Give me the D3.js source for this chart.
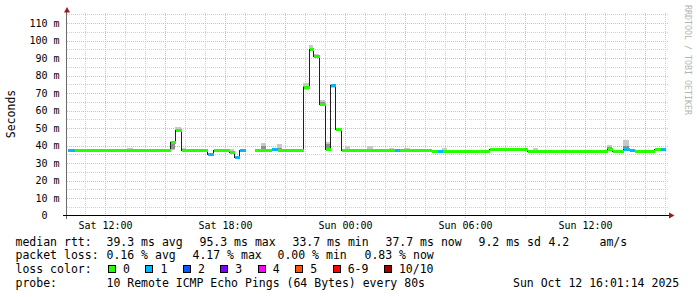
<!DOCTYPE html>
<html>
<head>
<meta charset="utf-8">
<script src="https://cdn.jsdelivr.net/npm/d3@7"></script>
<style>
  body { margin: 0; background: #fff; }
  svg { display: block; font-family: "DejaVu Sans Mono", monospace; }
</style>
</head>
<body>
<svg id="chart" width="697" height="297"></svg>
<script>
// one entry per consolidated step: start time, median rtt (ms), lost pings of 10,
// smoke range (light) and dense smoke range (dark), in ms. null = no data / no smoke
const stepStart = [
  "2025-10-11 10:06", "2025-10-11 10:27", "2025-10-11 13:06", "2025-10-11 13:24",
  "2025-10-11 15:15", "2025-10-11 15:30", "2025-10-11 15:48", "2025-10-11 16:03",
  "2025-10-11 17:05", "2025-10-11 17:23", "2025-10-11 18:12", "2025-10-11 18:27",
  "2025-10-11 18:42", "2025-10-11 19:00", "2025-10-11 19:27", "2025-10-11 19:48",
  "2025-10-11 20:03", "2025-10-11 20:18", "2025-10-11 20:36", "2025-10-11 20:51",
  "2025-10-11 21:54", "2025-10-11 22:12", "2025-10-11 22:24", "2025-10-11 22:42",
  "2025-10-11 23:00", "2025-10-11 23:15", "2025-10-11 23:30", "2025-10-11 23:48",
  "2025-10-12 00:00", "2025-10-12 00:15", "2025-10-12 01:06", "2025-10-12 01:24",
  "2025-10-12 02:12", "2025-10-12 02:27", "2025-10-12 02:42", "2025-10-12 02:57",
  "2025-10-12 03:15", "2025-10-12 04:18", "2025-10-12 04:36", "2025-10-12 04:51",
  "2025-10-12 05:06", "2025-10-12 07:12", "2025-10-12 09:06", "2025-10-12 09:24",
  "2025-10-12 09:39", "2025-10-12 13:06", "2025-10-12 13:21", "2025-10-12 13:54",
  "2025-10-12 14:12", "2025-10-12 14:27", "2025-10-12 15:27", "2025-10-12 15:45",
  "2025-10-12 16:00"
]
const medianMs = [
  37.3, 37.3, 37.3, 37.3,
  42.0, 49.0, 37.3, 37.3,
  34.9, 37.3, 36.3, 33.7,
  37.3, null, 37.3, 37.3,
  37.3, 38.2, 37.3, 37.3,
  73.3, 95.2, 91.0, 63.5,
  38.0, 74.9, 49.2, 37.3,
  37.3, 37.3, 37.3, 37.3,
  37.3, 37.3, 37.3, 37.3,
  37.3, 37.0, 37.0, 37.0,
  37.0, 38.3, 37.1, 37.1,
  37.1, 38.2, 37.1, 37.8,
  37.3, 37.1, 38.2, 38.2,
  null
]
const lossPings = [
  1, 0, 0, 0,
  0, 0, 0, 0,
  1, 0, 0, 1,
  1, 0, 0, 0,
  0, 1, 0, 0,
  0, 0, 0, 0,
  0, 1, 0, 0,
  0, 0, 0, 0,
  0, 1, 0, 0,
  0, 0, 1, 0,
  0, 0, 0, 0,
  0, 0, 0, 1,
  1, 0, 0, 1,
  0
]
const smokeLoMs = [
  null, null, 37.3, null,
  37.6, 48.6, 37.3, null,
  null, null, 36.3, null,
  null, null, null, 37.3,
  null, null, 37.3, null,
  71.5, 95.0, 90.5, 63.2,
  37.6, 73.0, null, null,
  37.3, null, 37.3, null,
  37.3, null, null, 37.3,
  null, null, null, 37.0,
  null, null, null, 37.1,
  null, 38.0, null, 37.3,
  null, null, null, null,
  null
]
const smokeHiMs = [
  null, null, 38.6, null,
  42.6, 50.6, 38.6, null,
  null, null, 37.8, null,
  null, null, null, 41.6,
  null, null, 40.8, null,
  75.5, 97.5, 92.5, 66.0,
  42.2, 75.3, null, null,
  39.7, null, 39.7, null,
  38.6, null, null, 38.6,
  null, null, null, 38.6,
  null, null, null, 38.6,
  null, 40.5, null, 43.2,
  null, null, null, null,
  null
]
const denseLoMs = [
  null, null, null, null,
  37.9, null, null, null,
  null, null, null, null,
  null, null, null, 37.3,
  null, null, 37.3, null,
  72.5, null, null, 63.5,
  38.0, null, null, null,
  null, null, null, null,
  null, null, null, null,
  null, null, null, null,
  null, null, null, null,
  null, 38.0, null, 37.5,
  null, null, null, null,
  null
]
const denseHiMs = [
  null, null, null, null,
  42.0, null, null, null,
  null, null, null, null,
  null, null, null, 39.6,
  null, null, 38.6, null,
  74.2, null, null, 64.8,
  40.8, null, null, null,
  null, null, null, null,
  null, null, null, null,
  null, null, null, null,
  null, null, null, null,
  null, 39.0, null, 40.0,
  null, null, null, null,
  null
]

const yTicks = [0, 10, 20, 30, 40, 50, 60, 70, 80, 90, 100, 110]
const lossLabels = ["0", "1", "2", "3", "4", "5", "6-9", "10/10"]
const lossColors = ["#26ff00", "#00b8ff", "#0059ff", "#7e00ff", "#ff00ff", "#ff5500", "#ff0000", "#a10000"]

const legendRtt = [
  ["39.3 ms avg", 107], ["95.3 ms max", 200], ["33.7 ms min", 293],
  ["37.7 ms now", 386], ["9.2 ms sd", 479], ["4.2", 549], ["am/s", 600]
]
const legendLoss = [
  ["0.16 % avg", 107], ["4.17 % max", 193], ["0.00 % min", 278], ["0.83 % now", 365]
]
const probeText = "10 Remote ICMP Echo Pings (64 Bytes) every 80s"
const stampText = "Sun Oct 12 16:01:14 2025"

const viewStart = "2025-10-11 10:06"
const viewEnd = "2025-10-12 16:06"

const parseTime = d3.timeParse("%Y-%m-%d %H:%M")

// loss pings -> legend colour bucket
const lossIndex = n => n <= 5 ? n : (n < 10 ? 6 : 7)

const svg = d3.select("#chart")

const x = d3.scaleTime()
  .domain([parseTime(viewStart), parseTime(viewEnd)])
  .range([67, 667])

const y = d3.scaleLinear()
  .domain([0, 115.5])
  .range([215.5, 13.5])

const X = t => Math.round(x(t))

const steps = stepStart.slice(0, -1).map((s, i) => ({
  t0: parseTime(s),
  t1: parseTime(stepStart[i + 1]),
  median: medianMs[i],
  loss: lossPings[i],
  lo: smokeLoMs[i],
  hi: smokeHiMs[i],
  dlo: denseLoMs[i],
  dhi: denseHiMs[i]
}))

// grid
const grid = svg.append("g").attr("shape-rendering", "crispEdges")
const hours = d3.timeHour.range(x.domain()[0], x.domain()[1])
grid.selectAll("line.vminor")
  .data(hours.filter(h => h.getHours() % 3 !== 0))
  .join("line")
    .attr("x1", d => X(d) + 0.5).attr("x2", d => X(d) + 0.5)
    .attr("y1", 13).attr("y2", 217)
    .attr("stroke", "#cfcfcf")
    .attr("stroke-dasharray", "1,1")
grid.selectAll("line.hminor")
  .data(d3.range(5, 116, 10))
  .join("line")
    .attr("x1", 67).attr("x2", 668)
    .attr("y1", d => Math.round(y(d)) + 0.5).attr("y2", d => Math.round(y(d)) + 0.5)
    .attr("stroke", "#cfcfcf")
    .attr("stroke-dasharray", "1,1")
grid.selectAll("line.vmajor")
  .data(hours.filter(h => h.getHours() % 3 === 0))
  .join("line")
    .attr("x1", d => X(d) + 0.5).attr("x2", d => X(d) + 0.5)
    .attr("y1", 13).attr("y2", 218)
    .attr("stroke", "#e8b4b4")
    .attr("stroke-dasharray", "1,1")
grid.selectAll("line.hmajor")
  .data(yTicks.slice(1))
  .join("line")
    .attr("x1", 67).attr("x2", 668)
    .attr("y1", d => Math.round(y(d)) + 0.5).attr("y2", d => Math.round(y(d)) + 0.5)
    .attr("stroke", "#e8b4b4")
    .attr("stroke-dasharray", "1,1")

// smoke
const smoke = svg.append("g").attr("shape-rendering", "crispEdges")
smoke.selectAll("rect.light")
  .data(steps.filter(d => d.lo != null))
  .join("rect")
    .attr("x", d => X(d.t0)).attr("width", d => X(d.t1) - X(d.t0))
    .attr("y", d => y(d.hi)).attr("height", d => y(d.lo) - y(d.hi))
    .attr("fill", "#c8c8c8")
smoke.selectAll("rect.dense")
  .data(steps.filter(d => d.dlo != null))
  .join("rect")
    .attr("x", d => X(d.t0)).attr("width", d => X(d.t1) - X(d.t0))
    .attr("y", d => y(d.dhi)).attr("height", d => y(d.dlo) - y(d.dhi))
    .attr("fill", "#8f8f8f")

// median line (black step) then loss-coloured bars
const pts = []
steps.forEach(d => {
  pts.push({ t: d.t0, v: d.median })
  pts.push({ t: d.t1, v: d.median })
})
const medianLine = d3.line()
  .defined(p => p.v != null)
  .x(p => X(p.t) + 0.5)
  .y(p => Math.round(y(p.v)) + 0.5)

svg.append("path")
  .attr("d", medianLine(pts))
  .attr("fill", "none")
  .attr("stroke", "#202020")
  .attr("stroke-width", 1)
  .attr("shape-rendering", "crispEdges")

svg.append("g").attr("shape-rendering", "crispEdges")
  .selectAll("rect")
  .data(steps.filter(d => d.median != null))
  .join("rect")
    .attr("x", d => X(d.t0) + 1).attr("width", d => X(d.t1) - X(d.t0))
    .attr("y", d => Math.round(y(d.median)) - 1).attr("height", 3)
    .attr("fill", d => lossColors[lossIndex(d.loss)])

// axes
const yAxis = svg.append("g")
  .attr("transform", "translate(67,0)")
  .call(d3.axisLeft(y).tickValues(yTicks).tickSize(0).tickPadding(7.5)
    .tickFormat(v => v === 0 ? "0\u00a0\u00a0" : `${v} m`))
yAxis.select(".domain").remove()
yAxis.selectAll("text").attr("font-size", 10).attr("font-family", "DejaVu Sans Mono").attr("fill", "#000")

const xAxis = svg.append("g")
  .attr("transform", "translate(0,215.5)")
  .call(d3.axisBottom(x).tickValues(d3.timeHour.every(6).range(x.domain()[0], x.domain()[1]))
    .tickSize(0).tickPadding(6).tickFormat(d3.timeFormat("%a %H:%M")))
xAxis.select(".domain").remove()
xAxis.selectAll("text").attr("font-size", 10).attr("font-family", "DejaVu Sans Mono").attr("fill", "#000")

svg.append("line")
  .attr("x1", 66.5).attr("x2", 66.5).attr("y1", 12).attr("y2", 219)
  .attr("stroke", "#6a6a6a").attr("shape-rendering", "crispEdges")
svg.append("line")
  .attr("x1", 63).attr("x2", 669).attr("y1", 215.5).attr("y2", 215.5)
  .attr("stroke", "#000").attr("shape-rendering", "crispEdges")

svg.append("path").attr("d", "M64,12.5L67,7L70,12.5Z").attr("fill", "#9b1c1c")
svg.append("path").attr("d", "M669,212.5L674.5,215.5L669,218.5Z").attr("fill", "#9b1c1c")

svg.append("text")
  .attr("transform", "translate(15,114) rotate(-90)")
  .attr("text-anchor", "middle")
  .attr("font-size", 11.5)
  .text("Seconds")

svg.append("text")
  .attr("transform", "translate(685,5) rotate(90)")
  .attr("font-size", 8.3)
  .attr("fill", "#b4b4b4")
  .text("RRDTOOL / TOBI OETIKER")

// legend
const legend = svg.append("g").attr("font-size", 11.5).attr("fill", "#000")
const row = (label, baseline, items) => {
  legend.append("text").attr("x", 15.5).attr("y", baseline).text(label)
  items.forEach(([txt, px]) => {
    legend.append("text").attr("x", px - 0.5).attr("y", baseline).text(txt)
  })
}
row("median rtt:", 245.5, legendRtt)
row("packet loss:", 259, legendLoss)
row("loss color:", 273, [])
row("probe:", 287, [[probeText, 107], [stampText, 513.5]])

let bx = 108
lossLabels.forEach((lbl, i) => {
  legend.append("rect")
    .attr("x", bx + 0.5).attr("y", 265.5).attr("width", 7).attr("height", 7)
    .attr("fill", lossColors[i]).attr("stroke", "#000").attr("stroke-width", 1)
    .attr("shape-rendering", "crispEdges")
  const t = legend.append("text").attr("x", bx + 15).attr("y", 273).text(lbl)
  bx = bx + 15 + t.node().getComputedTextLength() + 15.5
})
</script>
</body>
</html>
